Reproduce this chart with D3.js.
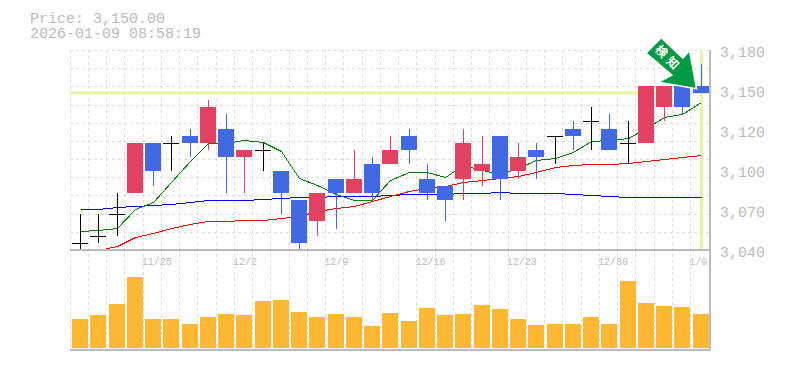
<!DOCTYPE html>
<html lang="en">
<head>
	<meta charset="utf-8">
	<title>Price chart</title>
	<script src="https://d3js.org/d3.v7.min.js"></script>
	<style type="text/css">
		body{ margin: 0; background: #fff; }
		svg{ display: block; }
		text{ font-family: "Liberation Mono", monospace; fill: #bbb; }
	</style>
</head>

<body>
	<svg id="chart" width="785" height="370"></svg>

	<script type="text/javascript">

	// header
	var priceLabel = "Price: 3,150.00"
	var timeLabel = "2026-01-09 08:58:19"
	var lastPrice = 3150

	// candles, oldest first
	var opens  = [3045,3050,3065,3080,3115,3115,3120,3115,3125,3105,3110,3095,3075,3060,3090,3080,3100,3100,3120,3090,3085,3090,3095,3120,3095,3110,3120,3125,3130,3125,3115,3115,3140,3155,3155]
	var closes = [3045,3050,3065,3115,3095,3115,3115,3140,3105,3110,3110,3080,3045,3080,3080,3090,3080,3110,3110,3080,3075,3115,3100,3090,3105,3105,3120,3120,3130,3110,3115,3155,3155,3140,3150]
	var highs  = [3065,3065,3080,3115,3115,3120,3125,3145,3135,3110,3115,3095,3075,3080,3090,3110,3105,3120,3125,3100,3085,3125,3120,3120,3115,3115,3120,3130,3140,3135,3130,3155,3155,3155,3170]
	var lows   = [3040,3045,3050,3080,3085,3095,3105,3110,3080,3080,3095,3065,3040,3050,3055,3080,3075,3100,3100,3075,3060,3075,3085,3075,3090,3090,3100,3110,3110,3110,3100,3115,3130,3135,3150]

	// moving averages
	var maShort = [3053.3,3054,3055.6,3068.5,3073.8,3087.8,3102.5,3115.1,3115.1,3116.8,3115.8,3109.3,3090.6,3085.5,3079.2,3075,3075,3089,3094.6,3094.6,3091.1,3099.5,3096,3093.2,3097.4,3103,3104.2,3108.4,3116.1,3116.8,3118.6,3125.4,3132.9,3135,3143.4]
	var maMid = [null,3040,3042.6,3048.9,3051.9,3055.4,3058,3060.1,3060.1,3060.8,3060.8,3062.2,3063.5,3067.3,3069.6,3071,3074.3,3077.8,3081.5,3083.4,3084.8,3087.6,3089,3090.4,3091.8,3094.3,3097.9,3099.7,3100,3100.4,3100.7,3102.5,3103.5,3105.1,3106.3]
	var maLong = [3068.5,3068.9,3069.9,3070.8,3071.7,3072.4,3073.4,3074.8,3074.8,3074.8,3075.5,3076.2,3076.9,3077.2,3077.6,3077.6,3077.6,3078.3,3079,3079,3079,3079.7,3079.7,3080.4,3079.7,3079.7,3079.7,3079,3078.5,3077.8,3077.3,3077.1,3077.1,3077.1,3077.1]

	var volumes = [29,33,44,71,29,29,24,31,34,33,47,48,36,31,34,31,22,35,27,40,33,34,43,39,29,23,24,24,31,24,67,45,42,41,34]

	// axis labels
	var priceTicks = [3180,3152,3124,3096,3068,3040]
	var dateTicks = [4,9,14,19,24,29,34]
	var dateLabels = ["11/25","12/2","12/9","12/16","12/23","12/30","1/9"]
	var gridRows = 11

	var plotLeft = 71, plotRight = 710, plotTop = 50, plotMid = 250, plotBottom = 350
	var barWidth = 16

	var up = "#e24261", down = "#4169e1", doji = "#000"
	var guide = "#e4f5a6", frame = "#bbb", gridColor = "#ddd"

	var svg = d3.select("#chart")

	var x = d3.scaleBand().domain(d3.range(opens.length)).range([plotLeft, plotRight])
	var y = d3.scaleLinear().domain([3040, 3180]).range([plotMid, plotTop])
	var yVol = d3.scaleLinear().domain([0, 71]).range([348, 277])

	var barLeft = i => Math.round(x(i) + 1)
	var center = i => barLeft(i) + barWidth / 2 + 0.5

	// grid
	var grid = svg.append("g")
		.attr("stroke", gridColor)
		.attr("stroke-dasharray", "3,3")
		.attr("shape-rendering", "crispEdges")

	grid.selectAll(".row")
		.data(d3.range(gridRows))
		.enter()
		.append("line")
		.attr("x1", plotLeft - 1)
		.attr("x2", plotRight)
		.attr("y1", d => Math.round(plotTop + d * (plotMid - plotTop) / gridRows) + 0.5)
		.attr("y2", d => Math.round(plotTop + d * (plotMid - plotTop) / gridRows) + 0.5)

	grid.selectAll(".col")
		.data(d3.range(opens.length))
		.enter()
		.append("line")
		.attr("x1", d => Math.floor(x(d)) - 0.5)
		.attr("x2", d => Math.floor(x(d)) - 0.5)
		.attr("y1", plotTop)
		.attr("y2", plotBottom)

	// current price guide
	svg.append("line")
		.attr("x1", plotLeft - 1).attr("x2", plotRight)
		.attr("y1", y(lastPrice)).attr("y2", y(lastPrice))
		.attr("stroke", guide).attr("stroke-width", 3)

	svg.append("line")
		.attr("x1", center(opens.length - 1)).attr("x2", center(opens.length - 1))
		.attr("y1", plotTop).attr("y2", plotMid)
		.attr("stroke", guide).attr("stroke-width", 3)

	// moving averages, clipped to the price panel
	svg.append("clipPath").attr("id", "priceClip")
		.append("rect")
		.attr("x", plotLeft).attr("y", plotTop)
		.attr("width", plotRight - plotLeft).attr("height", plotMid - plotTop)

	// snap to pixel centres, flat runs vanish under crispEdges otherwise
	var line = d3.line()
		.defined(d => d !== null)
		.x((d, i) => center(i))
		.y(d => Math.round(y(d)) + 0.5)

	var lines = [[maLong, "#00f"], [maMid, "#f00"], [maShort, "#008000"]]
	svg.append("g")
		.attr("clip-path", "url(#priceClip)")
		.attr("shape-rendering", "crispEdges")
		.selectAll("path")
		.data(lines)
		.enter()
		.append("path")
		.attr("fill", "none")
		.attr("stroke", d => d[1])
		.attr("stroke-width", 1)
		.attr("d", d => line(d[0]))

	// candles
	var candles = svg.append("g")
		.attr("shape-rendering", "crispEdges")
		.selectAll("g")
		.data(d3.range(opens.length))
		.enter()
		.append("g")

	var candleColor = i => closes[i] > opens[i] ? up : closes[i] < opens[i] ? down : doji

	candles.append("line")
		.attr("x1", center).attr("x2", center)
		.attr("y1", i => y(highs[i]))
		.attr("y2", i => y(lows[i]))
		.attr("stroke", candleColor)

	candles.append("rect")
		.attr("x", barLeft)
		.attr("y", i => y(Math.max(opens[i], closes[i])))
		.attr("width", barWidth)
		.attr("height", i => Math.max(1, Math.abs(y(opens[i]) - y(closes[i]))))
		.attr("fill", candleColor)

	// volume
	svg.append("g")
		.attr("shape-rendering", "crispEdges")
		.selectAll("rect")
		.data(volumes)
		.enter()
		.append("rect")
		.attr("x", (d, i) => barLeft(i))
		.attr("y", d => yVol(d))
		.attr("width", barWidth)
		.attr("height", d => yVol(0) - yVol(d))
		.attr("fill", "#ffb833")

	// frame
	var frameLines = svg.append("g")
		.attr("stroke", frame)
		.attr("stroke-width", 1.5)
		.attr("shape-rendering", "crispEdges")
	frameLines.append("line").attr("x1", plotLeft - 1).attr("x2", plotRight).attr("y1", plotMid).attr("y2", plotMid)
	frameLines.append("line").attr("x1", plotLeft - 1).attr("x2", plotRight).attr("y1", plotBottom).attr("y2", plotBottom)
	frameLines.append("line").attr("x1", plotRight).attr("x2", plotRight).attr("y1", plotTop).attr("y2", plotBottom)

	// axes
	var yAxis = d3.axisRight(y)
		.tickValues(priceTicks)
		.tickSize(0)
		.tickPadding(10)
		.tickFormat(d => d3.format(",")(Math.round(d / 10) * 10))

	var yG = svg.append("g")
		.attr("transform", "translate(" + plotRight + ",2)")
		.call(yAxis)
	yG.select(".domain").remove()
	yG.selectAll("text").attr("font-size", 15)
	yG.attr("font-family", null)

	// date labels start a little left of their candle
	var xAxis = d3.axisBottom(x)
		.tickValues(dateTicks)
		.tickSize(0)
		.tickPadding(8)
		.tickFormat((d, i) => dateLabels[i])

	var xG = svg.append("g")
		.attr("transform", "translate(0," + plotMid + ")")
		.call(xAxis)
	xG.select(".domain").remove()
	xG.selectAll("text").attr("font-size", 10).attr("text-anchor", "start").attr("dx", -11.5)
	xG.attr("font-family", null).attr("text-anchor", null)

	// header text
	svg.append("text").attr("x", 30).attr("y", 23).attr("font-size", 15).text(priceLabel)
	svg.append("text").attr("x", 30).attr("y", 38).attr("font-size", 15).text(timeLabel)

	// arrow pointing at the last candle, shape is relative to its tip
	var last = opens.length - 1
	var tipX = center(last) - 5, tipY = y(highs[last] - 15) + 3
	var arrowShape = [[0,0],[-38,-6.6],[-24.6,-13.6],[-50.6,-35.6],[-35.3,-51],[-13.6,-30.6],[-7,-38.3]]

	var arrow = svg.append("g")
		.attr("transform", "translate(" + tipX + "," + tipY + ")")

	arrow.append("polygon")
		.attr("points", arrowShape.map(d => d.join(",")).join(" "))
		.attr("fill", "#009944")
		.attr("stroke", "#fff")
		.attr("stroke-width", 1.5)

	arrow.append("text")
		.attr("transform", "translate(-28,-30) rotate(45)")
		.attr("text-anchor", "middle")
		.attr("dy", "0.35em")
		.attr("font-size", 12)
		.attr("font-weight", "bold")
		.attr("letter-spacing", 4)
		.style("font-family", "'Noto Sans CJK JP'")
		.style("fill", "#fff")
		.text("検知")

	</script>
</body>
</html>
